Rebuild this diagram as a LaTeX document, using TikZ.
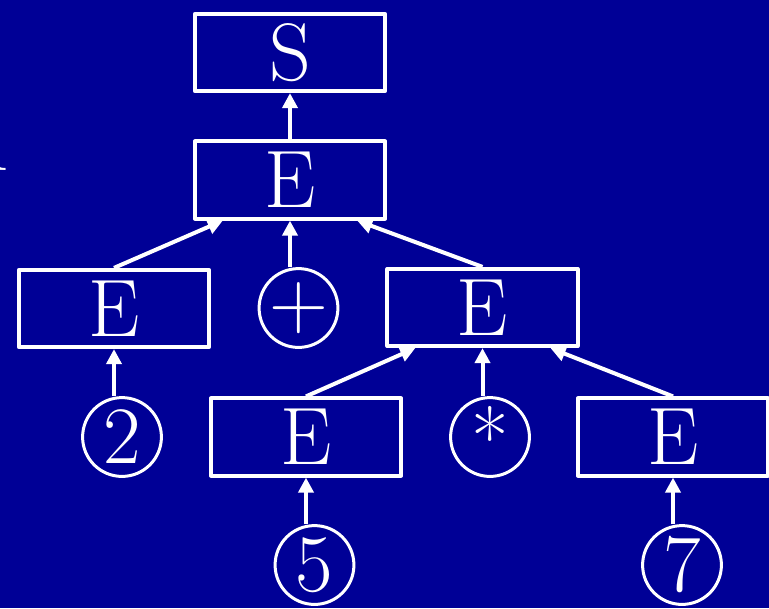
\documentclass[tikz,border=0pt]{standalone}
\usetikzlibrary{arrows.meta}
\definecolor{slideblue}{RGB}{0,0,150}
\begin{document}
\begin{tikzpicture}[x=0.025cm, y=-0.025cm, line join=round, >={Triangle[length=0.375cm,width=0.375cm]},
		font=\fontsize{58}{60}\selectfont,
		every node/.style={text=white, inner sep=0pt},
		nterm/.style={draw=white, line width=0.1cm, minimum width=4.75cm, minimum height=1.93cm},
		tok/.style={draw=white, circle, line width=0.075cm, minimum size=1.97cm},
		link/.style={draw=white, line width=0.1cm, ->}]
	\def\W{769} \def\H{608} % khung ảnh (px)
	\fill[slideblue] (0,0) rectangle (\W,\H);
	\useasboundingbox (0,0) rectangle (\W,\H);
	\node[anchor=base east] (cut) at (8,170) {A};
	% cây phân tích
	\node[nterm] (s) at (290,52.5) {S};
	\node[nterm] (e) at (290,180) {E};
	\node[nterm] (el) at (114,308.5) {E};
	\node[tok] (plus) at (298.5,308) {+};
	\node[nterm] (er) at (482.5,307.5) {E};
	\node[tok] (two) at (122,437) {2};
	\node[nterm] (ea) at (306,437) {E};
	\node[tok] (star) at (490,437) {*};
	\node[nterm] (eb) at (673,437) {E};
	\node[tok] (five) at (314.5,565) {5};
	\node[tok] (seven) at (682,565) {7};
	% mũi tên
	\draw[link] (e) -- (s);
	\draw[link] (el.north) -- ([xshift=-1.68cm]e.south);
	\draw[link] (e.south |- plus.north) -- (e.south);
	\draw[link] (er.north) -- ([xshift=1.68cm]e.south);
	\draw[link] (el.south |- two.north) -- (el.south);
	\draw[link] (ea.north) -- ([xshift=-1.68cm]er.south);
	\draw[link] (er.south |- star.north) -- (er.south);
	\draw[link] (eb.north) -- ([xshift=1.7cm]er.south);
	\draw[link] (ea.south |- five.north) -- (ea.south);
	\draw[link] (eb.south |- seven.north) -- (eb.south);
\end{tikzpicture}
\end{document}
